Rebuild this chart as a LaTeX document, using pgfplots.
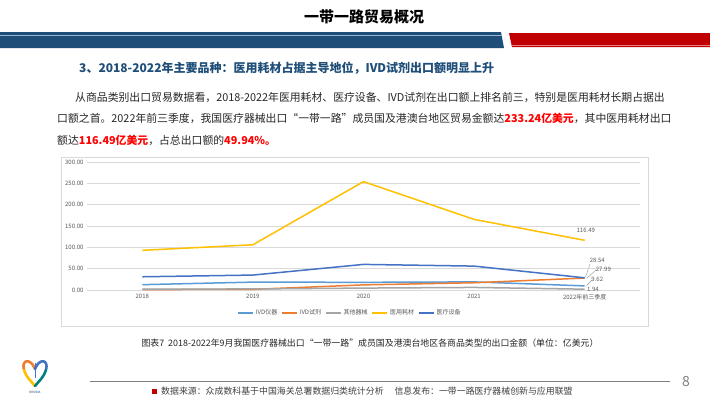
\documentclass[border=0pt]{standalone}
\usepackage{fontspec}
\setmainfont{Noto Sans CJK SC}
\usepackage{pgfplots}
\pgfplotsset{compat=1.18}
\definecolor{bandblue}{HTML}{1F4E79}
\definecolor{bandlight}{HTML}{9DB5D1}
\definecolor{bandred}{HTML}{C00000}
\definecolor{redlight}{HTML}{E88080}
\definecolor{headblue}{HTML}{1F4E79}
\definecolor{hired}{HTML}{FF0000}
\definecolor{gridgray}{HTML}{D9D9D9}
\definecolor{tickgray}{HTML}{595959}
\definecolor{cIVDyq}{HTML}{5B9BD5}
\definecolor{cIVDsj}{HTML}{ED7D31}
\definecolor{cQT}{HTML}{A5A5A5}
\definecolor{cHC}{HTML}{FFC000}
\definecolor{cSB}{HTML}{4472C4}
\definecolor{textdark}{HTML}{262626}
\definecolor{footgray}{HTML}{404040}
\begin{document}
\begin{tikzpicture}
\begin{scope}[x=1pt,y=-1pt]
\useasboundingbox (0,0) rectangle (710,399);
\fill[white] (0,0) rectangle (710,399);
% title
\node[font=\fontsize{15}{17}\selectfont\bfseries, text=black] at (364,17) {一带一路贸易概况};
% band
\fill[bandblue] (0,32) -- (501,32) -- (504,48) -- (0,48) -- cycle;
\draw[bandlight, line width=1pt] (0,35) -- (501.6,35);
\fill[bandred] (509,33) -- (710,33) -- (710,47) -- (512,47) -- cycle;
\draw[redlight, line width=0.8pt] (511.5,45) -- (710,45);
% heading
\node[anchor=west, inner sep=0, font=\fontsize{12}{14}\selectfont\bfseries, text=headblue] at (79,68) {3、2018-2022年主要品种：医用耗材占据主导地位，IVD试剂出口额明显上升};
% paragraph
\node[anchor=west, inner sep=0, font=\fontsize{10.85}{12}\selectfont, text=textdark] at (75,97) {从商品类别出口贸易数据看，2018-2022年医用耗材、医疗设备、IVD试剂在出口额上排名前三，特别是医用耗材长期占据出};
\node[anchor=west, inner sep=0, font=\fontsize{10.85}{12}\selectfont, text=textdark] at (57,118) {口额之首。2022年前三季度，我国医疗器械出口“一带一路”成员国及港澳台地区贸易金额达\textcolor{hired}{\bfseries 233.24亿美元}，其中医用耗材出口};
\node[anchor=west, inner sep=0, font=\fontsize{10.85}{12}\selectfont, text=textdark] at (57,140) {额达\textcolor{hired}{\bfseries 116.49亿美元}，占总出口额的\textcolor{hired}{\bfseries 49.94\%。}};
% chart frame
\draw[gridgray, line width=0.6pt] (61,157) rectangle (648,326);
% caption
\node[font=\fontsize{8.9}{11}\selectfont, text=textdark] at (370,343) {图表7\ \ 2018-2022年9月我国医疗器械出口“一带一路”成员国及港澳台地区各商品类型的出口金额（单位：亿美元）};
% footer
\draw[gray, line width=0.8pt] (90,381) -- (670,381);
\fill[bandred] (152,388.5) rectangle (157,393.5);
\node[anchor=west, inner sep=0, font=\fontsize{8.9}{10}\selectfont, text=footgray] at (161,391) {数据来源：众成数科基于中国海关总署数据归类统计分析\quad\ 信息发布：一带一路医疗器械创新与应用联盟};
\node[font=\fontsize{14}{16}\selectfont, text=gray] at (686,382) {8};
% logo
\draw[line width=2.6pt, draw=cIVDsj, line cap=round] (35,369) .. controls (31,358) and (21,359) .. (24,370);
\draw[line width=2.6pt, draw=cSB, line cap=round] (35,369) .. controls (39,358) and (49,359) .. (46,370);
\draw[line width=2.6pt, draw=cHC, line cap=round] (24,370) .. controls (26,377) and (31,381) .. (35,386);
\draw[line width=2.6pt, draw=teal, line cap=round] (46,370) .. controls (44,377) and (39,381) .. (35,386);
\draw[line width=1pt, draw=cSB] (35,363) -- (35,378);
\node[font=\fontsize{3}{3.5}\selectfont, text=bandblue] at (35,392) {BRMDIA};
% leader lines
\draw[gray!80, line width=0.4pt] (590,264) -- (585.5,277);
\draw[gray!80, line width=0.4pt] (596,270) -- (586.5,278.5);
\draw[gray!80, line width=0.4pt] (592,280) -- (586.5,285.5);
\end{scope}
\begin{axis}[
  at={(87pt,-290pt)}, anchor=south west,
  scale only axis, width=553pt, height=128pt,
  xmin=-0.5, xmax=4.5, ymin=0, ymax=300,
  xtick={0,1,2,3,4}, xticklabels={2018,2019,2020,2021,2022年前三季度},
  ytick={0,50,100,150,200,250,300},
  axis line style={draw=none},
  major tick length=0pt,
  ymajorgrids, grid style={color=gridgray, line width=0.6pt},
  tick label style={font=\fontsize{6}{7}\selectfont, text=tickgray},
  yticklabel style={/pgf/number format/fixed, /pgf/number format/fixed zerofill, /pgf/number format/precision=2, /pgf/number format/assume math mode=true},
  xticklabel style={yshift=-1pt},
  legend style={at={(0.4756,-0.18)}, anchor=center, draw=none, fill=none, legend columns=5, font=\fontsize{6}{7}\selectfont, text=tickgray, /tikz/every even column/.append style={column sep=2pt}},
  legend image code/.code={\draw[#1] (0pt,0pt) -- (15pt,0pt);},
  every axis plot/.append style={line width=1.5pt, mark=none},
  clip=false,
]
\addplot[color=cIVDyq] coordinates {(0,12.5) (1,18.5) (2,18) (3,19) (4,9.62)};
\addlegendentry{IVD仪器}
\addplot[color=cIVDsj] coordinates {(0,1.0) (1,1.5) (2,12) (3,17) (4,27.99)};
\addlegendentry{IVD试剂}
\addplot[color=cQT] coordinates {(0,2.2) (1,2.4) (2,4.5) (3,6) (4,1.94)};
\addlegendentry{其他器械}
\addplot[color=cHC] coordinates {(0,93) (1,106) (2,254) (3,165.5) (4,116.49)};
\addlegendentry{医用耗材}
\addplot[color=cSB] coordinates {(0,31) (1,35) (2,60) (3,56) (4,28.54)};
\addlegendentry{医疗设备}
\node[font=\fontsize{6}{7}\selectfont, text=tickgray] at (axis cs:4.01,140.6) {116.49};
\node[font=\fontsize{6}{7}\selectfont, text=tickgray] at (axis cs:4.114,70.3) {28.54};
\node[font=\fontsize{6}{7}\selectfont, text=tickgray] at (axis cs:4.169,49.2) {27.99};
\node[font=\fontsize{6}{7}\selectfont, text=tickgray] at (axis cs:4.114,25.0) {9.62};
\node[font=\fontsize{6}{7}\selectfont, text=tickgray] at (axis cs:4.074,2.3) {1.94};
\end{axis}
\end{tikzpicture}
\end{document}
